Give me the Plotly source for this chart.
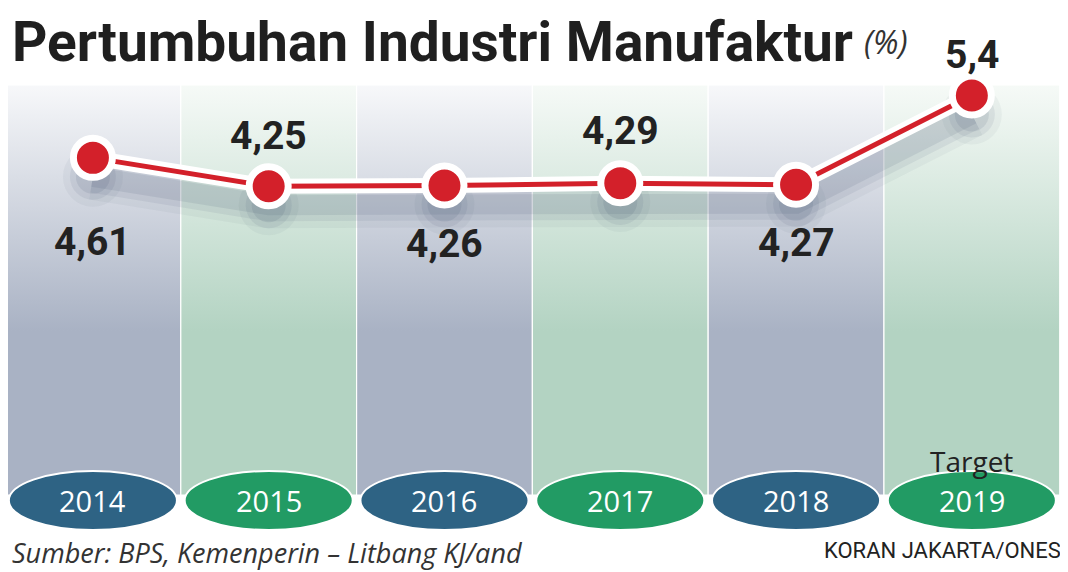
import plotly.graph_objects as go

# page body has an 8px margin, so the figure is 8px smaller and shifted
W, H = 1060, 564
OFF = 8

years = ["2014", "2015", "2016", "2017", "2018", "2019"]
growth = [4.61, 4.25, 4.26, 4.29, 4.27, 5.4]
labels = ["4,61", "4,25", "4,26", "4,29", "4,27", "5,4"]
label_offsets = [-84, 50, -58, 52, -58, 40]   # px, + is up
col_kind = ["blue", "green", "blue", "green", "blue", "green"]

title = "Pertumbuhan Industri Manufaktur"
unit = "(%)"
source = "Sumber: BPS, Kemenperin \u2013 Litbang KJ/and"
credit = "KORAN JAKARTA/ONES"
target_note = "Target"

col_fill = {"blue": "#a9b2c4", "green": "#b3d3c2"}
col_top = {"blue": "#f7f8fa", "green": "#f6faf7"}
oval_fill = {"blue": "#2e6384", "green": "#229b64"}
red = "#d3202a"


def px(x):
    return (x - OFF) / W


def py(y):
    return 1 - (y - OFF) / H


xs = list(range(len(years)))

# data axis; shadow axis is the same scale moved down a little
y_range = [-0.632, 6.507]
shadow_shift = 0.24

fig = go.Figure()

# background columns on base axis (pixels from bottom)
col_bottom, col_top_px = H - (495 - OFF), H - (85 - OFF)
for i, kind in enumerate(col_kind):
    fig.add_trace(go.Scatter(
        x=[i - 0.5, i + 0.5, i + 0.5, i - 0.5, i - 0.5],
        y=[col_bottom, col_bottom, col_top_px, col_top_px, col_bottom],
        mode="lines", fill="toself",
        line=dict(color="white", width=1.2),
        fillgradient=dict(
            type="vertical",
            colorscale=[[0, col_fill[kind]], [0.4, col_fill[kind]], [1, col_top[kind]]],
            start=col_bottom, stop=col_top_px),
        hoverinfo="skip", showlegend=False,
    ))

# soft shadow under the line
for w, a in [(46, 0.05), (32, 0.08), (20, 0.1)]:
    fig.add_trace(go.Scatter(
        x=xs, y=growth, yaxis="y2", mode="lines+markers",
        line=dict(color=f"rgba(50,70,100,{a})", width=w),
        marker=dict(size=w + 14, color=f"rgba(50,70,100,{a})"),
        hoverinfo="skip", showlegend=False,
    ))

# white casing + red line
fig.add_trace(go.Scatter(
    x=xs, y=growth, yaxis="y3", mode="lines",
    line=dict(color="white", width=15),
    hoverinfo="skip", showlegend=False,
))
fig.add_trace(go.Scatter(
    x=xs, y=growth, yaxis="y3", mode="lines+markers",
    line=dict(color=red, width=5),
    marker=dict(size=39, color=red, line=dict(color="white", width=7)),
    showlegend=False,
))

# value labels
for i, (v, lab, off) in enumerate(zip(growth, labels, label_offsets)):
    fig.add_annotation(x=i, y=v, yref="y3", text=f"<b>{lab}</b>", showarrow=False,
                       yshift=off, font=dict(family="Roboto", size=39, color="#222222"))

# year ovals
for i, (yr, kind) in enumerate(zip(years, col_kind)):
    fig.add_shape(type="circle", xref="x", yref="paper",
                  x0=i - 0.478, x1=i + 0.478, y0=py(530), y1=py(471),
                  fillcolor=oval_fill[kind], line=dict(color="white", width=2), layer="above")
    fig.add_annotation(x=i, y=py(500), yref="paper", yanchor="middle", text=yr, showarrow=False,
                       font=dict(family="Open Sans", size=29, color="white"))

fig.add_annotation(x=5, y=py(461), yref="paper", yanchor="middle", text=target_note, showarrow=False,
                   font=dict(family="Open Sans", size=28, color="#222222"))

# title and footer
fig.add_annotation(x=2 / W, y=1, xref="paper", yref="paper", xanchor="left", yanchor="top",
                   text=f"<b>{title}</b>", showarrow=False,
                   font=dict(family="Roboto", size=55, color="#1f1f1f"))
fig.add_annotation(x=px(862), y=py(18), xref="paper", yref="paper", xanchor="left", yanchor="top",
                   text=f"<i>{unit}</i>", showarrow=False,
                   font=dict(family="Open Sans", size=32, color="#333333"))
fig.add_annotation(x=2 / W, y=py(552), xref="paper", yref="paper", xanchor="left", yanchor="middle",
                   text=f"<i>{source}</i>", showarrow=False,
                   font=dict(family="Open Sans", size=27, color="#333333"))
fig.add_annotation(x=px(1063), y=py(550), xref="paper", yref="paper", xanchor="right", yanchor="middle",
                   text=credit, showarrow=False,
                   font=dict(family="Roboto", size=22, color="#222222"))

fig.update_layout(
    width=W, height=H,
    margin=dict(l=0, r=0, t=0, b=0),
    paper_bgcolor="white", plot_bgcolor="white",
    xaxis=dict(range=[-0.483, 5.547], domain=[0, 1], visible=False, fixedrange=True),
    yaxis=dict(range=[0, H], visible=False, fixedrange=True),
    yaxis2=dict(range=[y_range[0] + shadow_shift, y_range[1] + shadow_shift],
                overlaying="y", visible=False, fixedrange=True),
    yaxis3=dict(range=y_range, overlaying="y", visible=False, fixedrange=True),
)

fig.write_html("out.html")
